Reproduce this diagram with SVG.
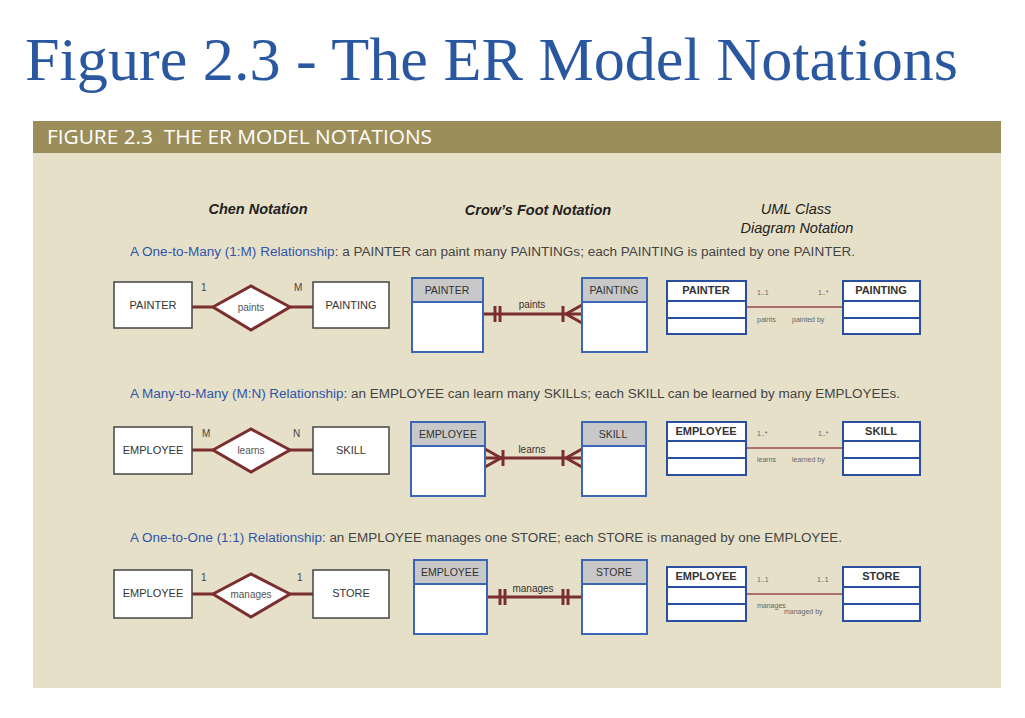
<svg xmlns="http://www.w3.org/2000/svg" width="1025" height="718" viewBox="0 0 1025 718">
<defs>
<style>
.t{font-family:"Liberation Sans",Arial,sans-serif;fill:#333}
.ent{fill:#fff;stroke:#444;stroke-width:1.5}
.dia{fill:#fff;stroke:#7a2e2e;stroke-width:3}
.rl{stroke:#7a2e2e;stroke-width:3;fill:none}
.cf{fill:#fff;stroke:#3a66b8;stroke-width:2}
.cfh{fill:#c8c8c8;stroke:#3a66b8;stroke-width:2}
.ul{fill:#fff;stroke:#2b4fa0;stroke-width:2}
.thin{stroke:#9a4a4a;stroke-width:1.5}
.sm{font-size:7px;fill:#666}
.en{font-size:11px;text-anchor:middle}
.hd{font-size:14.5px;font-weight:bold;font-style:italic;text-anchor:middle;fill:#222}
.desc{font-size:12.5px;fill:#444}
.blue{fill:#2d55a8}
.ub{font-size:11px;font-weight:bold;text-anchor:middle;fill:#333}
.num{font-size:10px;fill:#444}
</style>
</defs>
<rect width="1025" height="718" fill="#fff"/>
<text x="25" y="80" font-family="'Liberation Serif','Times New Roman',serif" font-size="61" fill="#2a58a0" textLength="933" lengthAdjust="spacingAndGlyphs">Figure 2.3 - The ER Model Notations</text>
<rect x="33" y="121" width="968" height="567" fill="#e7e0c9"/>
<rect x="33" y="121" width="968" height="32" fill="#9c8e5b"/>
<text x="47" y="144" font-family="'Open Sans',sans-serif" font-size="20" fill="#fff" xml:space="preserve" textLength="385" lengthAdjust="spacingAndGlyphs">FIGURE 2.3  THE ER MODEL NOTATIONS</text>
<text class="t hd" x="258" y="214">Chen Notation</text>
<text class="t hd" x="538" y="215">Crow’s Foot Notation</text>
<text class="t hd" x="796" y="214" style="font-weight:normal">UML Class</text>
<text class="t hd" x="797" y="233" style="font-weight:normal">Diagram Notation</text>

<text class="t desc" x="130" y="256" textLength="725" lengthAdjust="spacingAndGlyphs"><tspan class="blue">A One-to-Many (1:M) Relationship</tspan>: a PAINTER can paint many PAINTINGs; each PAINTING is painted by one PAINTER.</text>
<text class="t desc" x="130" y="398" textLength="770" lengthAdjust="spacingAndGlyphs"><tspan class="blue">A Many-to-Many (M:N) Relationship</tspan>: an EMPLOYEE can learn many SKILLs; each SKILL can be learned by many EMPLOYEEs.</text>
<text class="t desc" x="130" y="542" textLength="712" lengthAdjust="spacingAndGlyphs"><tspan class="blue">A One-to-One (1:1) Relationship</tspan>: an EMPLOYEE manages one STORE; each STORE is managed by one EMPLOYEE.</text>

<g id="connectors">
<line class="rl" x1="192" y1="307" x2="213" y2="307"/><line class="rl" x1="290" y1="307" x2="313" y2="307"/>
<line class="rl" x1="192" y1="450" x2="213" y2="450"/><line class="rl" x1="290" y1="450" x2="313" y2="450"/>
<line class="rl" x1="192" y1="594" x2="213" y2="594"/><line class="rl" x1="290" y1="594" x2="313" y2="594"/>
<line class="rl" x1="483" y1="314" x2="582" y2="314"/>
<path class="rl" d="M495 306v16M500 306v16M563 306v16M582 305L566 314L582 323"/>
<line class="rl" x1="485" y1="458" x2="582" y2="458"/>
<path class="rl" d="M485 449L501 458L485 467M503 450v16M563 450v16M582 449L566 458L582 467"/>
<line class="rl" x1="487" y1="597" x2="582" y2="597"/>
<path class="rl" d="M500 589v16M505 589v16M563 589v16M568 589v16"/>
<line class="thin" x1="746" y1="307" x2="843" y2="307"/>
<line class="thin" x1="746" y1="448" x2="843" y2="448"/>
<line class="thin" x1="746" y1="594" x2="843" y2="594"/>
</g>
<g>
<text class="t num" x="201" y="291">1</text><text class="t num" x="294" y="291">M</text>
<text class="t num" x="202" y="437">M</text><text class="t num" x="293" y="437">N</text>
<text class="t num" x="201" y="581">1</text><text class="t num" x="297" y="581">1</text>
</g>
<text class="t" x="532" y="308" font-size="10" text-anchor="middle" fill="#555">paints</text>
<text class="t" x="532" y="453" font-size="10" text-anchor="middle" fill="#555">learns</text>
<text class="t" x="533" y="592" font-size="10" text-anchor="middle" fill="#555">manages</text>
<g>
<text class="t sm" x="757" y="295">1..1</text><text class="t sm" x="818" y="295">1..*</text>
<text class="t sm" x="757" y="322">paints</text><text class="t sm" x="792" y="322">painted by</text>
<text class="t sm" x="757" y="436">1..*</text><text class="t sm" x="818" y="436">1..*</text>
<text class="t sm" x="757" y="462">learns</text><text class="t sm" x="792" y="462">learned by</text>
<text class="t sm" x="757" y="582">1..1</text><text class="t sm" x="817" y="582">1..1</text>
<text class="t sm" x="757" y="608">manages</text><text class="t sm" x="784" y="614">managed by</text>
</g>

<g id="chen-painter"><rect class="ent" x="114" y="282" width="78" height="46"/><text class="t en" x="153" y="309">PAINTER</text></g>
<g id="chen-paints"><polygon class="dia" points="213,307 251,286 290,307 251,330"/><text class="t en" x="251" y="311" style="font-size:10px;fill:#555">paints</text></g>
<g id="chen-painting"><rect class="ent" x="313" y="282" width="76" height="46"/><text class="t en" x="351" y="309">PAINTING</text></g>
<g id="chen-employee1"><rect class="ent" x="114" y="427" width="78" height="47"/><text class="t en" x="153" y="454">EMPLOYEE</text></g>
<g id="chen-learns"><polygon class="dia" points="213,450 251,429 290,450 251,472"/><text class="t en" x="251" y="454" style="font-size:10px;fill:#555">learns</text></g>
<g id="chen-skill"><rect class="ent" x="313" y="427" width="76" height="47"/><text class="t en" x="351" y="454">SKILL</text></g>
<g id="chen-employee2"><rect class="ent" x="114" y="570" width="78" height="48"/><text class="t en" x="153" y="597">EMPLOYEE</text></g>
<g id="chen-manages"><polygon class="dia" points="213,594 251,574 290,594 251,617"/><text class="t en" x="251" y="598" style="font-size:10px;fill:#555">manages</text></g>
<g id="chen-store"><rect class="ent" x="313" y="570" width="76" height="48"/><text class="t en" x="351" y="597">STORE</text></g>

<g id="cf-painter"><rect class="cf" x="412" y="278" width="71" height="74"/><rect class="cfh" x="412" y="278" width="71" height="24"/><text class="t en" x="447" y="294" style="font-size:10.5px">PAINTER</text></g>
<g id="cf-painting"><rect class="cf" x="582" y="278" width="65" height="74"/><rect class="cfh" x="582" y="278" width="65" height="24"/><text class="t en" x="614" y="294" style="font-size:10.5px">PAINTING</text></g>
<g id="cf-employee1"><rect class="cf" x="411" y="422" width="74" height="74"/><rect class="cfh" x="411" y="422" width="74" height="24"/><text class="t en" x="448" y="438" style="font-size:10.5px">EMPLOYEE</text></g>
<g id="cf-skill"><rect class="cf" x="582" y="422" width="64" height="74"/><rect class="cfh" x="582" y="422" width="64" height="24"/><text class="t en" x="613" y="438" style="font-size:10.5px">SKILL</text></g>
<g id="cf-employee2"><rect class="cf" x="414" y="560" width="73" height="74"/><rect class="cfh" x="414" y="560" width="73" height="24"/><text class="t en" x="450" y="576" style="font-size:10.5px">EMPLOYEE</text></g>
<g id="cf-store"><rect class="cf" x="582" y="560" width="65" height="74"/><rect class="cfh" x="582" y="560" width="65" height="24"/><text class="t en" x="614" y="576" style="font-size:10.5px">STORE</text></g>

<g id="uml-painter"><rect class="ul" x="667" y="281" width="79" height="53"/><line class="ul" x1="667" y1="301" x2="746" y2="301"/><line class="ul" x1="667" y1="318" x2="746" y2="318"/><text class="t ub" x="706" y="294">PAINTER</text></g>
<g id="uml-painting"><rect class="ul" x="843" y="281" width="77" height="53"/><line class="ul" x1="843" y1="301" x2="920" y2="301"/><line class="ul" x1="843" y1="318" x2="920" y2="318"/><text class="t ub" x="881" y="294">PAINTING</text></g>
<g id="uml-employee1"><rect class="ul" x="667" y="422" width="79" height="53"/><line class="ul" x1="667" y1="441" x2="746" y2="441"/><line class="ul" x1="667" y1="458" x2="746" y2="458"/><text class="t ub" x="706" y="435">EMPLOYEE</text></g>
<g id="uml-skill"><rect class="ul" x="843" y="422" width="77" height="53"/><line class="ul" x1="843" y1="441" x2="920" y2="441"/><line class="ul" x1="843" y1="458" x2="920" y2="458"/><text class="t ub" x="881" y="435">SKILL</text></g>
<g id="uml-employee2"><rect class="ul" x="667" y="567" width="79" height="54"/><line class="ul" x1="667" y1="587" x2="746" y2="587"/><line class="ul" x1="667" y1="604" x2="746" y2="604"/><text class="t ub" x="706" y="580">EMPLOYEE</text></g>
<g id="uml-store"><rect class="ul" x="843" y="567" width="77" height="54"/><line class="ul" x1="843" y1="587" x2="920" y2="587"/><line class="ul" x1="843" y1="604" x2="920" y2="604"/><text class="t ub" x="881" y="580">STORE</text></g>
</svg>
